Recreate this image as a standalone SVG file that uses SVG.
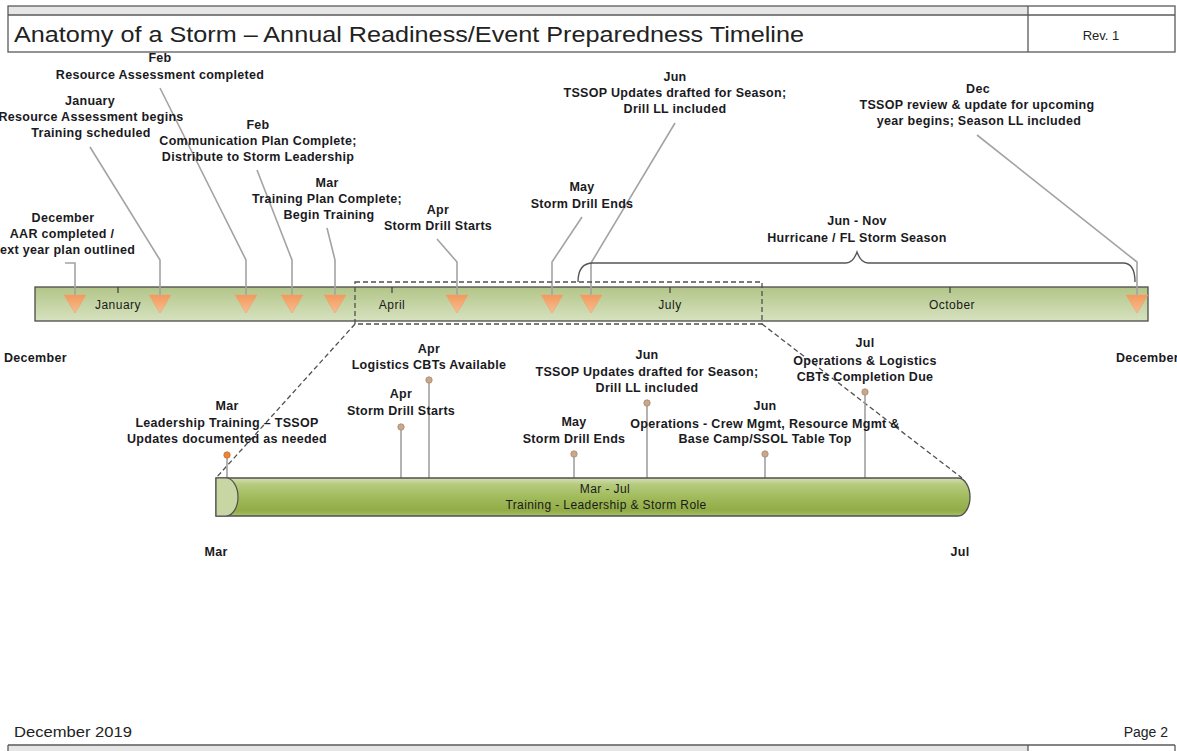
<svg xmlns="http://www.w3.org/2000/svg" width="1177" height="751" viewBox="0 0 1177 751">
<defs>
<linearGradient id="barGrad" x1="0" y1="0" x2="0" y2="1">
<stop offset="0" stop-color="#b2c588"/>
<stop offset="1" stop-color="#d7e2bf"/>
</linearGradient>
<linearGradient id="triGrad" x1="0" y1="0" x2="0" y2="1">
<stop offset="0" stop-color="#f29a5c"/>
<stop offset="1" stop-color="#f8bd92"/>
</linearGradient>
<linearGradient id="cylGrad" x1="0" y1="0" x2="0" y2="1">
<stop offset="0" stop-color="#d2dfb2"/>
<stop offset="0.18" stop-color="#b5ca7d"/>
<stop offset="0.5" stop-color="#a1bb5c"/>
<stop offset="0.85" stop-color="#91ac47"/>
<stop offset="1" stop-color="#a7c068"/>
</linearGradient>
<style>
.lbl{font-family:"Liberation Sans",Arial,sans-serif;font-weight:bold;font-size:12.5px;letter-spacing:0.3px;text-anchor:middle;fill:#1a1a22}
.mon{font-family:"Liberation Sans",Arial,sans-serif;font-size:12px;letter-spacing:0.5px;text-anchor:middle;fill:#1a1a1a}
.cyl{font-family:"Liberation Sans",Arial,sans-serif;font-size:12px;letter-spacing:0.4px;text-anchor:middle;fill:#1a1a1a}
.lead{fill:none;stroke:#a3a3a3;stroke-width:1.6}
.tri{fill:url(#triGrad);stroke:#f0a070;stroke-width:0.6}
.tick{stroke:#444;stroke-width:1.3}
.zoom{fill:none;stroke:#505050;stroke-width:1.3;stroke-dasharray:5,3}
.pin{stroke:#a0a0a0;stroke-width:1.6}
.dot{fill:#c8a88c;stroke:#a88a72;stroke-width:0.8}
.frame{fill:none;stroke:#5a5a5a;stroke-width:1.3}
.hdr{font-family:"Liberation Sans",Arial,sans-serif;fill:#222}
</style>
</defs>
<rect width="1177" height="751" fill="#ffffff"/>

<g id="header">
<rect x="8" y="6" width="1020" height="9" fill="#e6e6e6"/>
<rect x="8" y="6" width="1167" height="46" class="frame"/>
<line x1="8" y1="15" x2="1175" y2="15" stroke="#5a5a5a" stroke-width="1.5"/>
<line x1="1028" y1="6" x2="1028" y2="52" stroke="#5a5a5a" stroke-width="1.3"/>
<text class="hdr" x="14" y="42" font-size="22" textLength="790" lengthAdjust="spacingAndGlyphs">Anatomy of a Storm – Annual Readiness/Event Preparedness Timeline</text>
<text class="hdr" x="1101" y="40" font-size="13" text-anchor="middle">Rev. 1</text>
</g>

<g id="footer">
<text class="hdr" x="14" y="737" font-size="14" textLength="118" lengthAdjust="spacingAndGlyphs">December 2019</text>
<text class="hdr" x="1168" y="737" font-size="14" text-anchor="end">Page 2</text>
<rect x="8" y="745" width="1020" height="8" fill="#e6e6e6"/>
<line x1="8" y1="745" x2="1175" y2="745" stroke="#5a5a5a" stroke-width="1.5"/>
<line x1="8" y1="745" x2="8" y2="751" stroke="#5a5a5a" stroke-width="1.3"/>
<line x1="1175" y1="745" x2="1175" y2="751" stroke="#5a5a5a" stroke-width="1.3"/>
<line x1="1028" y1="745" x2="1028" y2="751" stroke="#5a5a5a" stroke-width="1.3"/>
</g>

<g id="timeline-bar">
<rect x="35" y="287" width="1113" height="34" fill="url(#barGrad)" stroke="#4a4a4a" stroke-width="1.3"/>
<line class="tick" x1="118" y1="287" x2="118" y2="293"/>
<line class="tick" x1="392" y1="287" x2="392" y2="293"/>
<line class="tick" x1="670" y1="287" x2="670" y2="293"/>
<line class="tick" x1="950" y1="287" x2="950" y2="293"/>
<text class="mon" x="118" y="309">January</text>
<text class="mon" x="392" y="309">April</text>
<text class="mon" x="670" y="309">July</text>
<text class="mon" x="952" y="309">October</text>
</g>

<g id="connectors">
<path class="lead" d="M65,263 L75,263 L75,296"/>
<path class="lead" d="M90,147 L160,260 L160,296"/>
<path class="lead" d="M160,88 L246,260 L246,296"/>
<path class="lead" d="M257,170 L292,260 L292,296"/>
<path class="lead" d="M327,228 L335,260 L335,296"/>
<path class="lead" d="M437,239 L457,262 L457,296"/>
<path class="lead" d="M582,217 L552,262 L552,296"/>
<path class="lead" d="M675,123 L591,263 L591,296"/>
<path class="lead" d="M977,135 L1137,262 L1137,296"/>
<rect class="zoom" x="355" y="282" width="407" height="42"/>
<line class="zoom" x1="355" y1="324" x2="216" y2="478"/>
<line class="zoom" x1="762" y1="324" x2="962" y2="478"/>
<line class="pin" x1="227" y1="455" x2="227" y2="478"/>
<line class="pin" x1="401" y1="427" x2="401" y2="478"/>
<line class="pin" x1="429" y1="380" x2="429" y2="478"/>
<line class="pin" x1="574" y1="454" x2="574" y2="478"/>
<line class="pin" x1="647" y1="403" x2="647" y2="478"/>
<line class="pin" x1="765" y1="454" x2="765" y2="478"/>
<line class="pin" x1="865" y1="392" x2="865" y2="478"/>
</g>

<g id="ev-dec-aar">
<path class="tri" d="M64,295 L86,295 L75,313 Z"/>
<text class="lbl" x="63" y="222">December</text>
<text class="lbl" x="62" y="238">AAR completed /</text>
<text class="lbl" x="0" y="254" style="text-anchor:start">ext year plan outlined</text>
</g>
<g id="ev-jan">
<path class="tri" d="M149,295 L171,295 L160,313 Z"/>
<text class="lbl" x="90" y="105">January</text>
<text class="lbl" x="91" y="121">Resource Assessment begins</text>
<text class="lbl" x="91" y="137">Training scheduled</text>
</g>
<g id="ev-feb-ra">
<path class="tri" d="M235,295 L257,295 L246,313 Z"/>
<text class="lbl" x="160" y="62">Feb</text>
<text class="lbl" x="160" y="79">Resource Assessment completed</text>
</g>
<g id="ev-feb-comm">
<path class="tri" d="M281,295 L303,295 L292,313 Z"/>
<text class="lbl" x="258" y="129">Feb</text>
<text class="lbl" x="258" y="145">Communication Plan Complete;</text>
<text class="lbl" x="258" y="161">Distribute to Storm Leadership</text>
</g>
<g id="ev-mar">
<path class="tri" d="M324,295 L346,295 L335,313 Z"/>
<text class="lbl" x="327" y="187">Mar</text>
<text class="lbl" x="327" y="203">Training Plan Complete;</text>
<text class="lbl" x="329" y="219">Begin Training</text>
</g>
<g id="ev-apr">
<path class="tri" d="M446,295 L468,295 L457,313 Z"/>
<text class="lbl" x="438" y="214">Apr</text>
<text class="lbl" x="438" y="230">Storm Drill Starts</text>
</g>
<g id="ev-may">
<path class="tri" d="M541,295 L563,295 L552,313 Z"/>
<text class="lbl" x="582" y="191">May</text>
<text class="lbl" x="582" y="208">Storm Drill Ends</text>
</g>
<g id="ev-jun">
<path class="tri" d="M580,295 L602,295 L591,313 Z"/>
<text class="lbl" x="675" y="81">Jun</text>
<text class="lbl" x="675" y="97">TSSOP Updates drafted for Season;</text>
<text class="lbl" x="675" y="113">Drill LL included</text>
</g>
<g id="ev-dec-review">
<path class="tri" d="M1126,295 L1148,295 L1137,313 Z"/>
<text class="lbl" x="978" y="93">Dec</text>
<text class="lbl" x="977" y="109">TSSOP review &amp; update for upcoming</text>
<text class="lbl" x="979" y="125">year begins; Season LL included</text>
</g>
<g id="season-brace">
<path d="M578,282 Q578,263 593,263 L846,263 Q853,263 857,252 Q861,263 868,263 L1123,263 Q1135,263 1135,282" fill="none" stroke="#555" stroke-width="1.4"/>
<text class="lbl" x="857" y="225">Jun - Nov</text>
<text class="lbl" x="857" y="242">Hurricane / FL Storm Season</text>
</g>
<g id="bar-ends">
<text class="lbl" x="4" y="362" style="text-anchor:start">December</text>
<text class="lbl" x="1116" y="362" style="text-anchor:start">December</text>
</g>

<g id="training-cylinder">
<path d="M216,478 L958,478 A12,19 0 0 1 958,516 L216,516 Z" fill="url(#cylGrad)" stroke="#505050" stroke-width="1.3"/>
<path d="M216,478 L226,478 A12,19 0 0 1 226,516 L216,516 Z" fill="#c8d6a4" stroke="#505050" stroke-width="1.2"/>
<text class="cyl" x="605" y="493">Mar - Jul</text>
<text class="cyl" x="606" y="509">Training - Leadership &amp; Storm Role</text>
<text class="lbl" x="216" y="556">Mar</text>
<text class="lbl" x="960" y="556">Jul</text>
</g>

<g id="m-mar">
<circle cx="227" cy="455" r="3.2" fill="#e8873a" stroke="#c8702e" stroke-width="0.8"/>
<text class="lbl" x="227" y="410">Mar</text>
<text class="lbl" x="227" y="427">Leadership Training – TSSOP</text>
<text class="lbl" x="227" y="443">Updates documented as needed</text>
</g>
<g id="m-apr-drill">
<circle class="dot" cx="401" cy="427" r="3.2"/>
<text class="lbl" x="401" y="398">Apr</text>
<text class="lbl" x="401" y="415">Storm Drill Starts</text>
</g>
<g id="m-apr-cbt">
<circle class="dot" cx="429" cy="380" r="3.2"/>
<text class="lbl" x="429" y="353">Apr</text>
<text class="lbl" x="429" y="369">Logistics CBTs Available</text>
</g>
<g id="m-may">
<circle class="dot" cx="574" cy="454" r="3.2"/>
<text class="lbl" x="574" y="426">May</text>
<text class="lbl" x="574" y="443">Storm Drill Ends</text>
</g>
<g id="m-jun-tssop">
<circle class="dot" cx="647" cy="403" r="3.2"/>
<text class="lbl" x="647" y="359">Jun</text>
<text class="lbl" x="647" y="376">TSSOP Updates drafted for Season;</text>
<text class="lbl" x="647" y="392">Drill LL included</text>
</g>
<g id="m-jun-ops">
<circle class="dot" cx="765" cy="454" r="3.2"/>
<text class="lbl" x="765" y="410">Jun</text>
<text class="lbl" x="765" y="428">Operations - Crew Mgmt, Resource Mgmt &amp;</text>
<text class="lbl" x="765" y="443">Base Camp/SSOL Table Top</text>
</g>
<g id="m-jul">
<circle class="dot" cx="865" cy="392" r="3.2"/>
<text class="lbl" x="865" y="347">Jul</text>
<text class="lbl" x="865" y="365">Operations &amp; Logistics</text>
<text class="lbl" x="865" y="381">CBTs Completion Due</text>
</g>
</svg>
